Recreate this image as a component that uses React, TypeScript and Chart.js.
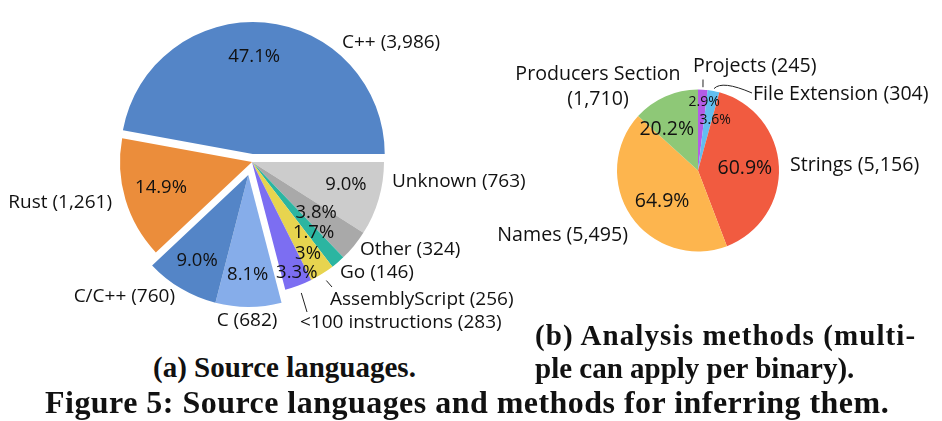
import React, { useEffect, useRef } from "react";
import { Chart, registerables, ArcElement } from "chart.js";
Chart.register(...registerables);

// ---------- (a) Source languages (drawn clockwise from 3 o'clock) ----------
const langNames = ["Unknown", "Other", "Go", "AssemblyScript", "<100 instructions", "C", "C/C++", "Rust", "C++"];
const langCounts = [763, 324, 146, 256, 283, 682, 760, 1261, 3986];
const langPct = ["9.0%", "3.8%", "1.7%", "3%", "3.3%", "8.1%", "9.0%", "14.9%", "47.1%"];
const langColors = ["#cccccc", "#a9a9a9", "#2bb5a1", "#e7d44f", "#7c6ef2", "#86adea", "#5485c7", "#eb8d3b", "#5485c7"];

// ---------- (b) Analysis methods (clockwise from 12 o'clock) ----------
const methodNames = ["Projects", "File Extension", "Strings", "Names", "Producers Section"];
const methodCounts = [245, 304, 5156, 5495, 1710];
const methodPct = ["2.9%", "3.6%", "60.9%", "64.9%", "20.2%"];
const methodColors = ["#b35ce6", "#62bef0", "#f15b40", "#fdb54e", "#8ec877"];

const fmt = (n: number) => n.toLocaleString("en-US");
const FONT = "'Open Sans', sans-serif";

type LabelStyle = {
  explode: number[];
  group: number[];
  pctDist: number[];
  pctShift: number[];
  pctSize: number[];
  labelSize: number;
  labelPos: [number, number][];
  labelAlign: CanvasTextAlign[];
  labelBreak: boolean[];
  leaders: ({ end: [number, number]; ctrl?: [number, number]; start: number } | null)[];
};

const langStyle: LabelStyle = {
  explode: [0, 0, 0, 0, 0, 13.5, 13.5, 0, 8],
  group: [0, 1, 2, 3, 4, 5, 5, 6, 7],
  pctDist: [0.73, 0.615, 0.703, 0.803, 0.893, 0.742, 0.745, 0.713, 0.75],
  pctShift: [3.5, 1.6, 0.9, -0.2, 1.7, -0.4, -0.8, -1.6, 4.4],
  pctSize: [18.5, 18.5, 18.5, 18.5, 18.5, 18.5, 18.5, 18.5, 18.5],
  labelSize: 19,
  labelPos: [[140, 20], [108, 88], [88, 111], [78, 138], [48, 161], [-5, 159], [-77, 135], [-140, 41], [90, -119]],
  labelAlign: ["left", "left", "left", "left", "left", "center", "right", "right", "left"],
  labelBreak: [false, false, false, false, false, false, false, false, false],
  leaders: [null, null, null, { start: 1.06, end: [80, 125] }, { start: 1.06, end: [55, 150] }, null, null, null, null],
};

const methodStyle: LabelStyle = {
  explode: [0, 0, 0, 0, 0],
  group: [0, 1, 2, 3, 4],
  pctDist: [0.86, 0.67, 0.58, 0.57, 0.65],
  pctShift: [-1.6, -7.3, 0.9, 4.7, 12.6],
  pctSize: [14, 14, 19.5, 19.5, 19.5],
  labelSize: 19.6,
  labelPos: [[-5, -103.5], [55, -75.5], [92, -4.5], [-70, 65.5], [-100, -95.5]],
  labelAlign: ["left", "left", "left", "right", "center"],
  labelBreak: [false, false, false, false, true],
  leaders: [{ start: 1.03, end: [5, -91] }, { start: 1.03, end: [54, -77.5], ctrl: [24, -90.5] }, null, null, null],
};

function makePlugins(pct: string[], names: string[], counts: number[], st: LabelStyle) {
  const explode = {
    id: "explodeGroups",
    beforeDatasetsDraw(chart: any) {
      const data = chart.getDatasetMeta(0).data;
      data.forEach((el: any, i: number) => {
        let s = Infinity;
        let e = -Infinity;
        data.forEach((o: any, j: number) => {
          if (st.group[j] === st.group[i]) {
            s = Math.min(s, o.startAngle);
            e = Math.max(e, o.endAngle);
          }
        });
        const mid = (s + e) / 2;
        el.$dx = Math.cos(mid) * st.explode[i];
        el.$dy = Math.sin(mid) * st.explode[i];
        if (!el.$patched) {
          el.$patched = true;
          const base = ArcElement.prototype.draw;
          el.draw = function (ctx: CanvasRenderingContext2D, area: any) {
            ctx.save();
            ctx.translate(this.$dx || 0, this.$dy || 0);
            base.call(this, ctx, area);
            ctx.restore();
          };
        }
      });
    },
  };
  const labels = {
    id: "pieLabels",
    afterDatasetsDraw(chart: any) {
      const ctx: CanvasRenderingContext2D = chart.ctx;
      const data = chart.getDatasetMeta(0).data;
      ctx.save();
      ctx.fillStyle = "#111";
      ctx.strokeStyle = "#222";
      ctx.lineWidth = 1;
      data.forEach((el: any, i: number) => {
        const { x, y, startAngle, endAngle, outerRadius: r } = el;
        const mid = (startAngle + endAngle) / 2;
        const cx = x + (el.$dx || 0);
        const cy = y + (el.$dy || 0);
        // percentage label
        const a = mid - (st.pctShift[i] * Math.PI) / 180;
        const size = st.pctSize[i];
        ctx.font = `${size}px ${FONT}`;
        ctx.textAlign = "center";
        ctx.textBaseline = "alphabetic";
        ctx.fillText(pct[i], cx + Math.cos(a) * st.pctDist[i] * r, cy + Math.sin(a) * st.pctDist[i] * r + size * 0.36);
        // outer label
        ctx.font = `${st.labelSize}px ${FONT}`;
        ctx.textAlign = st.labelAlign[i];
        const [lx, ly] = st.labelPos[i];
        if (st.labelBreak[i]) {
          ctx.fillText(names[i], x + lx, y + ly + 5);
          ctx.fillText(`(${fmt(counts[i])})`, x + lx, y + ly + 30);
        } else {
          ctx.fillText(`${names[i]} (${fmt(counts[i])})`, x + lx, y + ly + 5);
        }
        const ld = st.leaders[i];
        if (ld) {
          ctx.beginPath();
          ctx.moveTo(cx + Math.cos(mid) * r * ld.start, cy + Math.sin(mid) * r * ld.start);
          if (ld.ctrl) ctx.quadraticCurveTo(x + ld.ctrl[0], y + ld.ctrl[1], x + ld.end[0], y + ld.end[1]);
          else ctx.lineTo(x + ld.end[0], y + ld.end[1]);
          ctx.stroke();
        }
      });
      ctx.restore();
    },
  };
  return [explode, labels];
}

function PieCanvas(props: {
  w: number; h: number; left: number; top: number; pad: { left: number; right: number; top: number; bottom: number };
  radius: number; rotation: number; counts: number[]; colors: string[]; names: string[]; pct: string[]; st: LabelStyle;
}) {
  const ref = useRef<HTMLCanvasElement | null>(null);
  useEffect(() => {
    if (!ref.current) return;
    const chart = new Chart(ref.current, {
      type: "pie",
      data: {
        labels: props.names,
        datasets: [{ data: props.counts, backgroundColor: props.colors, borderWidth: 0, hoverOffset: 0 }],
      },
      options: {
        responsive: false,
        animation: false,
        rotation: props.rotation,
        radius: props.radius,
        layout: { padding: props.pad },
        events: [],
        plugins: { legend: { display: false }, tooltip: { enabled: false } },
      } as any,
      plugins: makePlugins(props.pct, props.names, props.counts, props.st) as any,
    });
    return () => chart.destroy();
  }, []);
  return (
    <canvas
      ref={ref}
      width={props.w}
      height={props.h}
      style={{ position: "absolute", left: props.left, top: props.top, width: props.w, height: props.h }}
    />
  );
}

const capStyle: React.CSSProperties = {
  position: "absolute",
  fontFamily: "'Liberation Serif', serif",
  fontWeight: "bold",
  color: "#111",
  whiteSpace: "nowrap",
};

export default function App() {
  return (
    <div style={{ position: "absolute", left: 0, top: 0, width: 942, height: 421, background: "#fff", overflow: "hidden" }}>
      <PieCanvas
        w={560} h={340} left={0} top={0}
        pad={{ left: 0, right: 56, top: 0, bottom: 16 }}
        radius={132} rotation={90}
        counts={langCounts} colors={langColors} names={langNames} pct={langPct} st={langStyle}
      />
      <PieCanvas
        w={462} h={270} left={480} top={40}
        pad={{ left: 0, right: 26, top: 0, bottom: 9 }}
        radius={81} rotation={0}
        counts={methodCounts} colors={methodColors} names={methodNames} pct={methodPct} st={methodStyle}
      />
      <div style={{ ...capStyle, left: 153, top: 350.7, fontSize: 29, lineHeight: "33px" }}>(a) Source languages.</div>
      <div style={{ ...capStyle, left: 535, top: 318.7, fontSize: 29, lineHeight: "33px" }}>
        <span style={{ letterSpacing: "1.1px" }}>(b) Analysis methods (multi-</span>
        <br />
        ple can apply per binary).
      </div>
      <div style={{ ...capStyle, left: 45, top: 384.2, fontSize: 32, lineHeight: "36px", letterSpacing: "0.47px" }}>
        Figure 5: Source languages and methods for inferring them.
      </div>
    </div>
  );
}
